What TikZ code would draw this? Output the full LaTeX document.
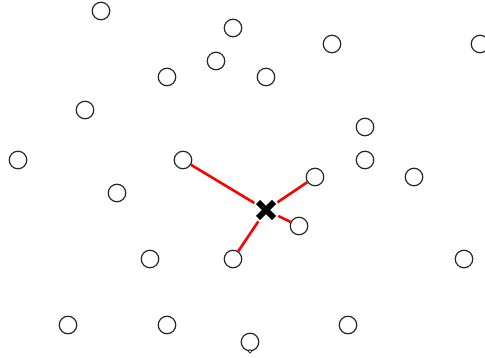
\documentclass[tikz,border=0pt]{standalone}
\begin{document}
\begin{tikzpicture}[x=1pt,y=-1pt,
  pt/.style={circle,draw=black!85,line width=1.2pt,fill=white,minimum size=17.5pt,inner sep=0pt},
  link/.style={red,line width=2.6pt},
  xmark/.style={line width=6pt,black}]
\useasboundingbox[fill=white] (0,0) rectangle (485,358);
\node[pt] (n1) at (101,11) {};
\node[pt] (n2) at (233,28) {};
\node[pt] (n3) at (216,61) {};
\node[pt] (n4) at (332,44) {};
\node[pt] (n5) at (480,44) {};
\node[pt] (n6) at (167,77) {};
\node[pt] (n7) at (266,77) {};
\node[pt] (n8) at (85,110) {};
\node[pt] (n9) at (365,127) {};
\node[pt] (n10) at (18,160) {};
\node[pt] (n11) at (183,160) {};
\node[pt] (n12) at (365,160) {};
\node[pt] (n13) at (315,177) {};
\node[pt] (n14) at (414,177) {};
\node[pt] (n15) at (117,193) {};
\node[pt] (n16) at (299,226) {};
\node[pt] (n17) at (150,259) {};
\node[pt] (n18) at (233,259) {};
\node[pt] (n19) at (464,259) {};
\node[pt] (n20) at (68,325) {};
\node[pt] (n21) at (167,325) {};
\node[pt] (n22) at (348,325) {};
\node[pt] (n23) at (250,342) {};
\node[circle,draw=black!85,fill=white,line width=0.6pt,minimum size=3.5pt,inner sep=0pt] (tip) at (n23.south) {};
\node[circle,minimum size=27pt,inner sep=0pt] (q) at (266,210) {};
\draw[link] (n11) -- (q);
\draw[link] (n13) -- (q);
\draw[link] (n16) -- (q);
\draw[link] (n18) -- (q);
\draw[xmark] ([shift={(-8,-8)}]q.center) -- ([shift={(8,8)}]q.center);
\draw[xmark] ([shift={(-8,8)}]q.center) -- ([shift={(8,-8)}]q.center);
\end{tikzpicture}
\end{document}
